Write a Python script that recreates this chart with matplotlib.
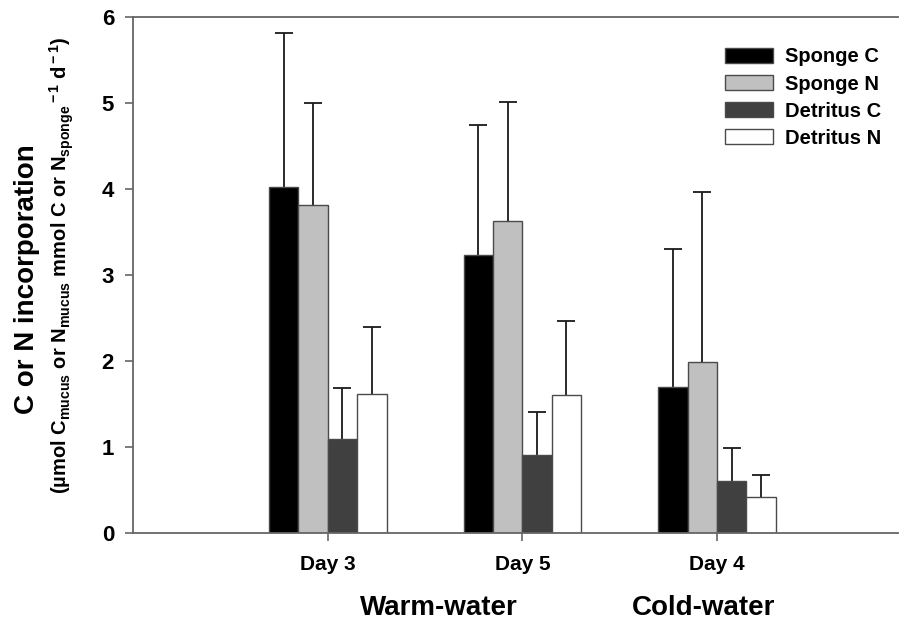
import numpy as np
import matplotlib
matplotlib.use("Agg")
import matplotlib.pyplot as plt

plt.rcParams['font.family'] = ['Liberation Sans', 'DejaVu Sans']
plt.rcParams['font.weight'] = 'bold'
plt.rcParams['mathtext.fontset'] = 'custom'
plt.rcParams['mathtext.rm'] = 'Liberation Sans:bold'
plt.rcParams['mathtext.it'] = 'Liberation Sans:bold'
plt.rcParams['mathtext.bf'] = 'Liberation Sans:bold'

# Incorporation rates per sampling day
days = ["Day 3", "Day 5", "Day 4"]
series = ["Sponge C", "Sponge N", "Detritus C", "Detritus N"]
sponge_c = [4.03, 3.23, 1.70]
sponge_n = [3.82, 3.63, 1.99]
detritus_c = [1.09, 0.90, 0.60]
detritus_n = [1.61, 1.60, 0.42]
# upper error-bar ends (mean + SD)
sponge_c_top = [5.82, 4.75, 3.30]
sponge_n_top = [5.00, 5.01, 3.97]
detritus_c_top = [1.69, 1.40, 0.99]
detritus_n_top = [2.40, 2.47, 0.67]
groups = ["Warm-water", "Cold-water"]

means = [sponge_c, sponge_n, detritus_c, detritus_n]
tops = [sponge_c_top, sponge_n_top, detritus_c_top, detritus_n_top]
fills = ["#000000", "#c0c0c0", "#404040", "#ffffff"]

fig = plt.figure(figsize=(8.99, 6.23), dpi=100)
ax = fig.add_axes([0.148, 0.145, 0.851, 0.827])

x = np.arange(1, len(days) + 1)
w = 0.151
for i, (m, t, c) in enumerate(zip(means, tops, fills)):
    pos = x + (i - 1.5) * w
    m = np.asarray(m)
    err = np.asarray(t) - m
    ax.bar(pos, m, width=w, color=c, edgecolor="#4a4a4a", linewidth=1.0,
           label=series[i], zorder=2)
    eb = ax.errorbar(pos, m, yerr=[np.zeros_like(m), err], fmt="none",
                     ecolor="#1a1a1a", elinewidth=1.3, capsize=6.5,
                     capthick=1.3, zorder=1)
    # only the upper whisker gets a cap
    for cap in eb[1]:
        if np.allclose(cap.get_ydata(), m):
            cap.set_visible(False)

ax.set_xlim(0, 3.93)
ax.set_ylim(0, 6)
ax.set_yticks(range(0, 7))
ax.set_xticks(x)
ax.set_xticklabels(days)
ax.tick_params(axis="y", direction="out", length=5.8, width=1.2, color="#666666",
               labelsize=16, pad=7.9)
ax.tick_params(axis="x", direction="out", length=5.8, width=1.2, color="#666666",
               labelsize=15, pad=10.2)
for lab in ax.get_xticklabels() + ax.get_yticklabels():
    lab.set_fontweight("bold")

for side in ["top", "bottom", "left"]:
    ax.spines[side].set_color("#666666")
    ax.spines[side].set_linewidth(1.3)
ax.spines["right"].set_visible(False)

# group captions under the day labels
ax.text(1.57, -0.88, groups[0], transform=ax.transData, ha="center", va="center",
        fontsize=20, fontweight="bold", clip_on=False)
ax.text(2.93, -0.88, groups[1], transform=ax.transData, ha="center", va="center",
        fontsize=20, fontweight="bold", clip_on=False)

fig.text(0.030, 0.552, "C or N incorporation", rotation=90, ha="center",
         va="center", fontsize=20, fontweight="bold")
fig.text(0.069, 0.575,
         r"(µmol C$_{\rm mucus}$ or N$_{\rm mucus}$ mmol C or N$_{\rm sponge}{}^{\rm -1}$ d$^{\rm -1}$)",
         rotation=90, ha="center", va="center", fontsize=14.5, fontweight="bold")

leg = ax.legend(loc="upper left", bbox_to_anchor=(0.795, 0.940),
                bbox_transform=fig.transFigure, frameon=False, borderpad=0,
                fontsize=14.5, handlelength=2.4, handleheight=0.8,
                labelspacing=0.4, handletextpad=0.6)
for t in leg.get_texts():
    t.set_fontweight("bold")

fig.savefig("out.png", dpi=100)
